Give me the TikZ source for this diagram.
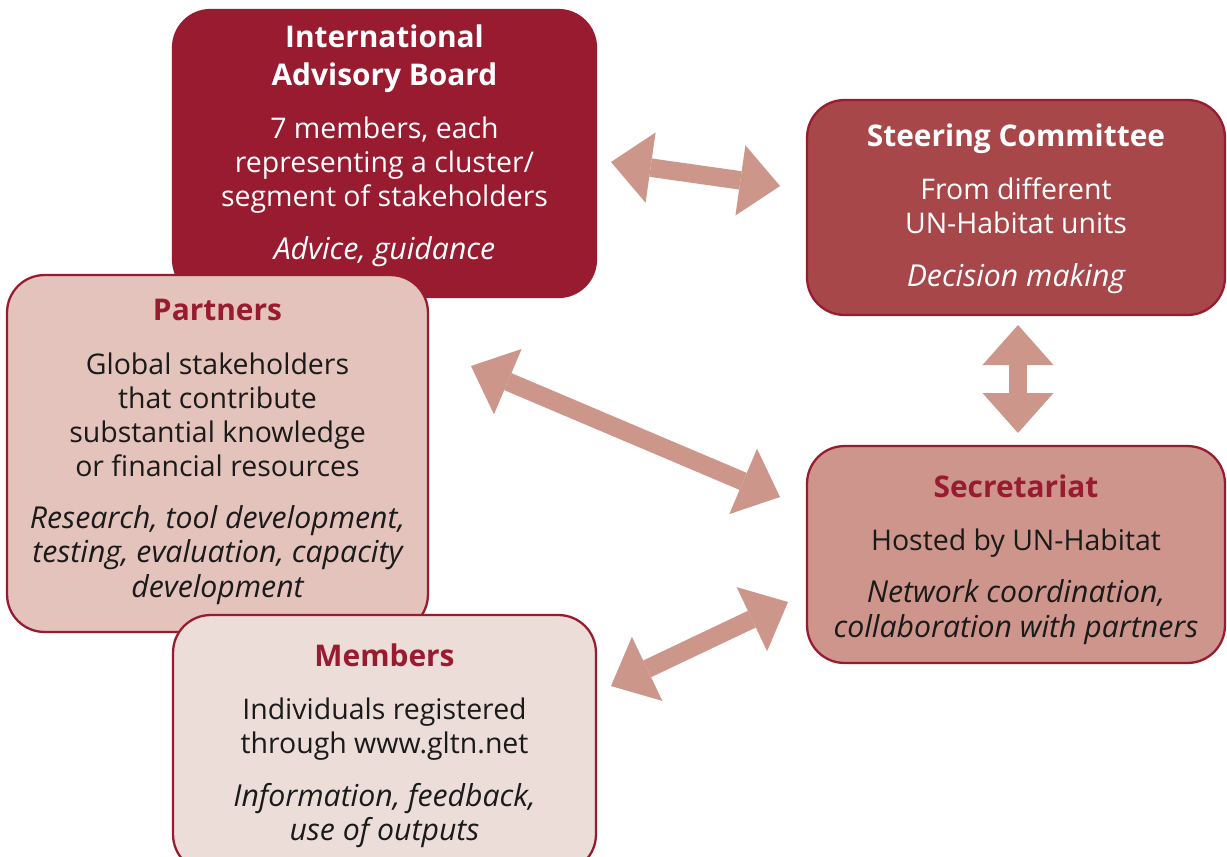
\documentclass[tikz,border=0pt]{standalone}
\usepackage{fontspec}
\setmainfont{Open Sans}
\usetikzlibrary{arrows.meta,positioning}

\definecolor{gltnred}{HTML}{981B30}
\definecolor{steerred}{HTML}{A8474A}
\definecolor{partnerpink}{HTML}{E3C3BB}
\definecolor{secpink}{HTML}{CD958B}
\definecolor{memberpink}{HTML}{EDDDD8}
\definecolor{arrowpink}{HTML}{CD968B}
\definecolor{bodytext}{HTML}{1A1A1A}

\newcommand{\boxtitle}[1]{{\fontsize{17}{19.4}\selectfont\bfseries #1}}
\newcommand{\boxrole}[1]{{\fontsize{17.2}{19.4}\selectfont\itshape #1}}

\begin{document}
\begin{tikzpicture}[x=0.02cm,y=-0.02cm,
  box/.style={rounded corners=0.75cm, draw=gltnred, line width=1.3pt, inner sep=0pt},
  txt/.style={align=center, anchor=north, inner sep=0pt, font=\fontsize{16.2}{19.4}\selectfont},
  twoway/.style={draw=arrowpink, line width=0.37cm,
    {Triangle[width=1.42cm,length=0.8cm,line width=0pt]}-{Triangle[width=1.42cm,length=0.8cm,line width=0pt]}}]
  \useasboundingbox (0,0) rectangle (1227,856);

  % left column, drawn so that each box overlaps the one above
  \node[box, fill=gltnred, minimum width=8.46cm, minimum height=5.74cm] (iab) at (384.5,153.5) {};
  \node[box, fill=partnerpink, minimum width=8.42cm, minimum height=7.14cm] (partners) at (217.5,453.5) {};
  \node[box, fill=memberpink, minimum width=8.46cm, minimum height=5.14cm] (members) at (384.5,743.5) {};

  % right column
  \node[box, fill=steerred, minimum width=8.36cm, minimum height=4.3cm] (steering) at (1016,207.5) {};
  \node[box, fill=secpink, minimum width=8.36cm, minimum height=4.34cm] (secretariat) at (1016,554.5) {};

  \node[txt, text=white] (iabtext) at (384.5,24)
    {\boxtitle{International}\\[2.2pt] \boxtitle{Advisory Board}\\[11pt]
     7 members, each\\ representing a cluster/\\ segment of stakeholders\\[10.5pt]
     \boxrole{Advice, guidance}};
  \node[txt, text=white] (steeringtext) at (1016,123)
    {\boxtitle{Steering Committee}\\[11pt]
     From different\\ UN-Habitat units\\[10.5pt]
     \boxrole{Decision making}};
  \node[txt, text=bodytext] (partnerstext) at (217.5,299)
    {\textcolor{gltnred}{\boxtitle{Partners}}\\[11pt]
     Global stakeholders\\ that contribute\\ substantial knowledge\\ or financial resources\\[10.5pt]
     \boxrole{Research, tool development,}\\ \boxrole{testing, evaluation, capacity}\\ \boxrole{development}};
  \node[txt, text=bodytext] (secretariattext) at (1016,474)
    {\textcolor{gltnred}{\boxtitle{Secretariat}}\\[11pt]
     Hosted by UN-Habitat\\[10.5pt]
     \boxrole{Network coordination,}\\ \boxrole{collaboration with partners}};
  \node[txt, text=bodytext] (memberstext) at (384.5,643)
    {\textcolor{gltnred}{\boxtitle{Members}}\\[11pt]
     Individuals registered\\ through www.gltn.net\\[10.5pt]
     \boxrole{Information, feedback,}\\ \boxrole{use of outputs}};

  % arrow ends, just off the boxes
  \coordinate (iabend) at (611,162);
  \coordinate (steerleft) at (780,186);
  \coordinate (steerbottom) at (1018,325);
  \coordinate (sectop) at (1018,433);
  \coordinate (partnersend) at (471,366);
  \coordinate (secleft) at (780,497);
  \coordinate (membersend) at (611,686);
  \coordinate (seclower) at (788,602);

  \draw[twoway] (iabend) -- (steerleft);
  \draw[twoway] (steerbottom) -- (sectop);
  \draw[twoway] (partnersend) -- (secleft);
  \draw[twoway] (membersend) -- (seclower);
\end{tikzpicture}
\end{document}
